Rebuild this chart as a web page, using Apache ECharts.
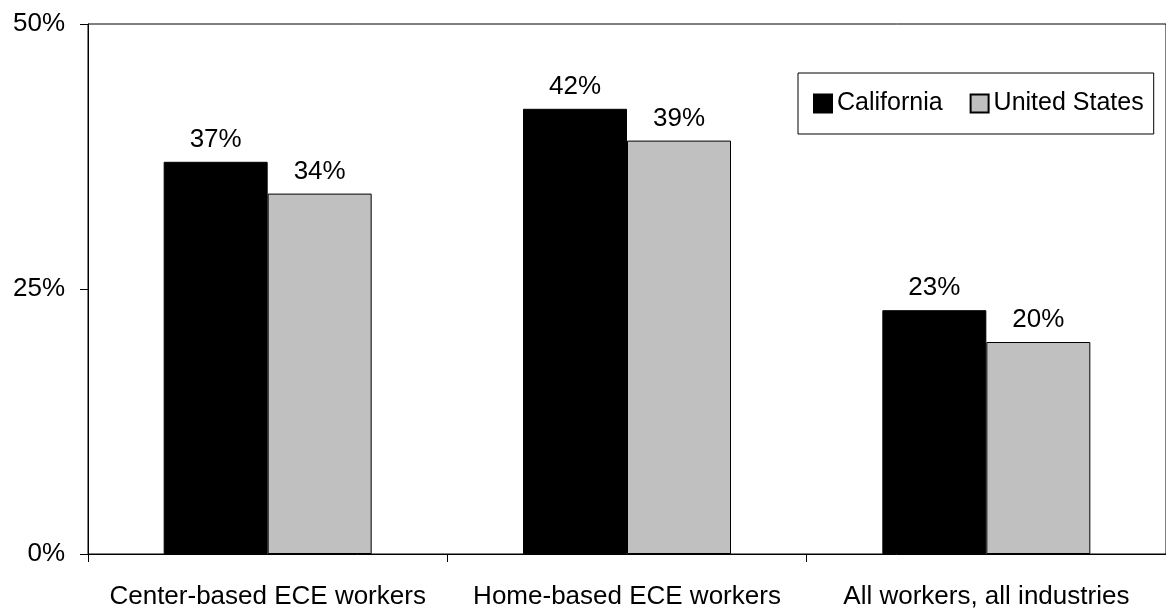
<!DOCTYPE html>
<html>
<head>
<meta charset="utf-8">
<title>ECE workers: California vs United States</title>
<script src="https://cdn.jsdelivr.net/npm/echarts@6/dist/echarts.min.js"></script>
<style>
  html, body { margin: 0; padding: 0; background: #fff; }
  #chart { width: 1166px; height: 610px; }
</style>
</head>
<body>
<div id="chart"></div>
<script>
// Categories along the x axis
const categories = ['Center-based ECE workers', 'Home-based ECE workers', 'All workers, all industries'];
// Share of workers (percent)
const california = [37, 42, 23];
const unitedStates = [34, 39, 20];
// Y axis range and step
const yMin = 0;
const yMax = 50;
const yStep = 25;

const FONT = '"Liberation Sans", Arial, sans-serif';

const chart = echarts.init(document.getElementById('chart'), null, { renderer: 'canvas' });

const labelStyle = {
  show: true,
  position: 'top',
  distance: 9,
  fontFamily: FONT,
  fontSize: 26,
  color: '#000',
  formatter: p => p.value + '%'
};

chart.setOption({
  animation: false,
  backgroundColor: '#fff',
  textStyle: { fontFamily: FONT, color: '#000' },
  grid: {
    left: 88,
    top: 24,
    width: 1091,
    height: 530,
    show: true,
    borderColor: '#000',
    borderWidth: 1,
    backgroundColor: 'transparent'
  },
  legend: {
    left: 798,
    top: 73,
    padding: [18, 10, 18, 15],
    itemWidth: 18,
    itemHeight: 18,
    itemGap: 27,
    borderColor: '#000',
    borderWidth: 1,
    backgroundColor: '#fff',
    icon: 'rect',
    textStyle: { fontFamily: FONT, fontSize: 25, color: '#000', padding: [0, 0, 0, 0] },
    data: ['California', 'United States']
  },
  xAxis: {
    type: 'category',
    data: categories,
    axisLine: { show: true, lineStyle: { color: '#000', width: 1 } },
    axisTick: { show: true, length: 8, lineStyle: { color: '#000' } },
    axisLabel: { fontFamily: FONT, fontSize: 26, color: '#000', margin: 30, interval: 0 }
  },
  yAxis: {
    type: 'value',
    min: yMin,
    max: yMax,
    interval: yStep,
    axisLine: { show: true, lineStyle: { color: '#000', width: 1 } },
    axisTick: { show: true, length: 8, lineStyle: { color: '#000' } },
    splitLine: { show: false },
    axisLabel: {
      fontFamily: FONT, fontSize: 26, color: '#000', margin: 23,
      padding: [6, 0, 0, 0],
      formatter: v => v + '%'
    }
  },
  series: [
    {
      name: 'California',
      type: 'bar',
      data: california,
      barWidth: 104,
      barGap: '0%',
      itemStyle: { color: '#000', borderColor: '#000', borderWidth: 1 },
      label: labelStyle
    },
    {
      name: 'United States',
      type: 'bar',
      data: unitedStates,
      barWidth: 104,
      barGap: '0%',
      itemStyle: { color: '#c0c0c0', borderColor: '#000', borderWidth: 1 },
      label: labelStyle
    }
  ]
});
</script>
</body>
</html>
